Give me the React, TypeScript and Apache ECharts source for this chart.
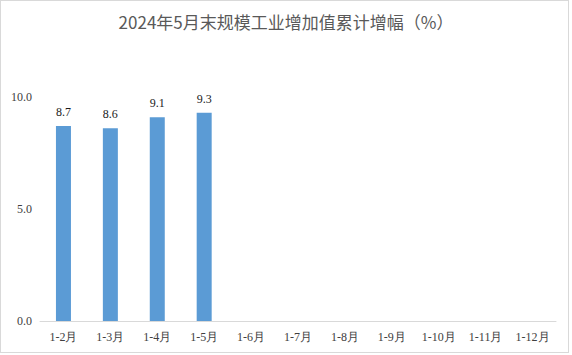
import React, { useEffect, useRef } from "react";
import * as echarts from "echarts";

const title = "2024年5月末规模工业增加值累计增幅（%）";
const categories = ["1-2月", "1-3月", "1-4月", "1-5月", "1-6月", "1-7月", "1-8月", "1-9月", "1-10月", "1-11月", "1-12月"];
const values: (number | null)[] = [8.7, 8.6, 9.1, 9.3, null, null, null, null, null, null, null];
const yTicks = { min: 0, max: 10, interval: 5 };

const serif = "Liberation Serif";

export default function App() {
  const ref = useRef<HTMLDivElement>(null);
  useEffect(() => {
    if (!ref.current) return;
    const chart = echarts.init(ref.current, null, { renderer: "svg" });
    chart.setOption({
      animation: false,
      backgroundColor: "#ffffff",
      title: {
        text: title,
        left: "center",
        top: 8,
        textStyle: {
          fontFamily: "Noto Sans CJK SC",
          fontSize: 17,
          fontWeight: "normal",
          color: "#595959",
        },
      },
      grid: { left: 40, right: 16, top: 97, bottom: 34 },
      xAxis: {
        type: "category",
        data: categories,
        axisLine: { lineStyle: { color: "#d9d9d9", width: 1 } },
        axisTick: { show: false },
        axisLabel: { fontFamily: serif, fontSize: 12, color: "#404040", margin: 10 },
      },
      yAxis: {
        type: "value",
        min: yTicks.min,
        max: yTicks.max,
        interval: yTicks.interval,
        splitLine: { show: false },
        axisLine: { show: false },
        axisTick: { show: false },
        axisLabel: {
          fontFamily: serif,
          fontSize: 12,
          color: "#404040",
          margin: 8,
          formatter: (v: number) => v.toFixed(1),
        },
      },
      series: [
        {
          type: "bar",
          data: values,
          barWidth: 15,
          itemStyle: { color: "#5b9bd5" },
          label: {
            show: true,
            position: "top",
            distance: 8,
            fontFamily: serif,
            fontSize: 12,
            color: "#1a1a1a",
            formatter: (p: any) => (p.value == null ? "" : Number(p.value).toFixed(1)),
          },
        },
      ],
    });
    return () => chart.dispose();
  }, []);
  return (
    <div
      style={{
        position: "fixed",
        left: 0,
        top: 0,
        width: 572,
        height: 355,
        background: "#fff",
      }}
    >
      <div ref={ref} style={{ width: 572, height: 355 }} />
      <div
        style={{
          position: "absolute",
          left: 0,
          top: 0,
          width: 569,
          height: 353,
          border: "1px solid #d9d9d9",
          boxSizing: "border-box",
          pointerEvents: "none",
        }}
      />
    </div>
  );
}
